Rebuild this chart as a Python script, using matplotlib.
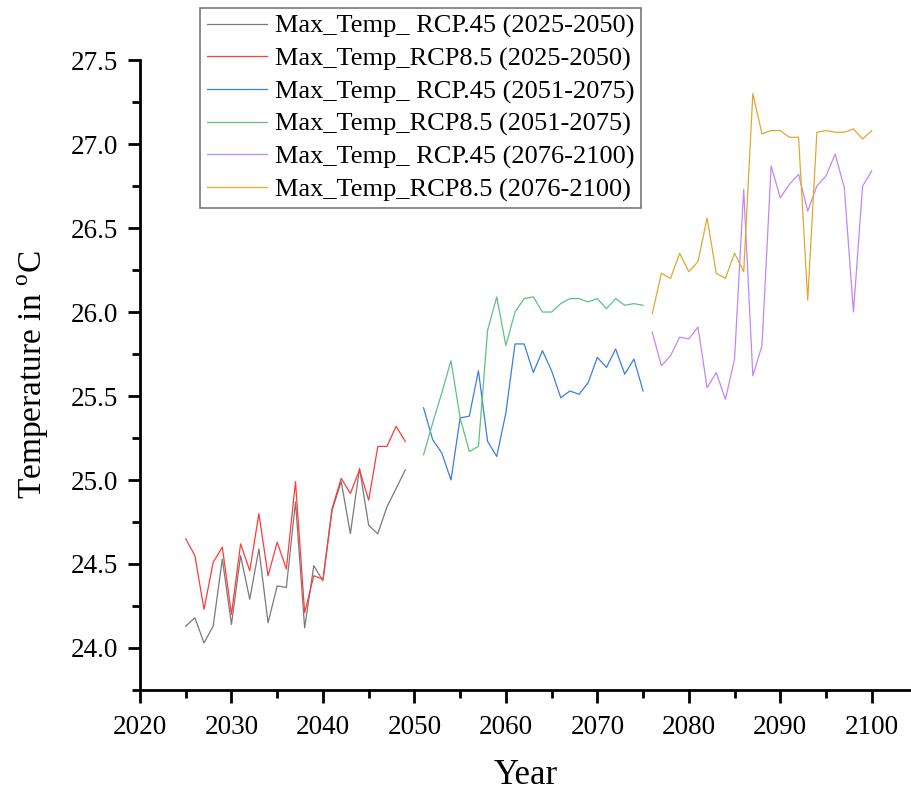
import matplotlib.pyplot as plt
from matplotlib.ticker import MultipleLocator
import numpy as np

plt.rcParams['font.family'] = ['Liberation Serif', 'DejaVu Serif']
plt.rcParams['mathtext.fontset'] = 'custom'
plt.rcParams['mathtext.rm'] = 'Liberation Serif'

years_1 = list(range(2025, 2050))
years_2 = list(range(2051, 2076))
years_3 = list(range(2076, 2101))

# period 1
rcp45_p1 = [24.13, 24.18, 24.03, 24.13, 24.53, 24.14, 24.55, 24.29, 24.59, 24.15,
            24.37, 24.36, 24.87, 24.12, 24.49, 24.40, 24.82, 24.99, 24.68, 25.07,
            24.73, 24.68, 24.84, 24.95, 25.06]
rcp85_p1 = [24.65, 24.55, 24.23, 24.51, 24.60, 24.20, 24.62, 24.46, 24.80, 24.43,
            24.63, 24.47, 24.99, 24.21, 24.43, 24.41, 24.83, 25.01, 24.92, 25.06,
            24.88, 25.20, 25.20, 25.32, 25.23]
# period 2
rcp45_p2 = [25.43, 25.24, 25.16, 25.00, 25.37, 25.38, 25.65, 25.23, 25.14, 25.40,
            25.81, 25.81, 25.64, 25.77, 25.65, 25.49, 25.53, 25.51, 25.58, 25.73,
            25.67, 25.78, 25.63, 25.72, 25.53]
rcp85_p2 = [25.15, 25.34, 25.52, 25.71, 25.37, 25.17, 25.20, 25.89, 26.09, 25.80,
            26.00, 26.08, 26.09, 26.00, 26.00, 26.05, 26.08, 26.08, 26.06, 26.08,
            26.02, 26.08, 26.04, 26.05, 26.04]
# period 3
rcp45_p3 = [25.88, 25.68, 25.74, 25.85, 25.84, 25.91, 25.55, 25.64, 25.48, 25.72,
            26.73, 25.62, 25.80, 26.87, 26.68, 26.76, 26.82, 26.60, 26.75, 26.81,
            26.94, 26.74, 26.00, 26.75, 26.84]
rcp85_p3 = [25.99, 26.23, 26.20, 26.35, 26.24, 26.30, 26.56, 26.23, 26.20, 26.35,
            26.24, 27.30, 27.06, 27.08, 27.08, 27.04, 27.04, 26.07, 27.07, 27.08,
            27.07, 27.07, 27.09, 27.03, 27.08]

labels = ['Max_Temp_ RCP.45 (2025-2050)', 'Max_Temp_RCP8.5 (2025-2050)',
          'Max_Temp_ RCP.45 (2051-2075)', 'Max_Temp_RCP8.5 (2051-2075)',
          'Max_Temp_ RCP.45 (2076-2100)', 'Max_Temp_RCP8.5 (2076-2100)']
colors = ['#7a7a7a', '#ff3b3b', '#3a7fe0', '#5cc27e', '#c187f5', '#e0a830']

series = [(years_1, rcp45_p1), (years_1, rcp85_p1),
          (years_2, rcp45_p2), (years_2, rcp85_p2),
          (years_3, rcp45_p3), (years_3, rcp85_p3)]

fig = plt.figure(figsize=(9.12, 7.91), dpi=100)
ax = fig.add_axes([0.1535, 0.1277, 1.0 - 0.1535, 0.9241 - 0.1277])

for (x, y), lab, c in zip(series, labels, colors):
    ax.plot(x, y, color=c, lw=0.9, label=lab)

ax.set_xlim(2020, 2104.4)
ax.set_ylim(23.75, 27.5)
ax.xaxis.set_major_locator(MultipleLocator(10))
ax.xaxis.set_minor_locator(MultipleLocator(5))
ax.yaxis.set_major_locator(MultipleLocator(0.5))
ax.yaxis.set_minor_locator(MultipleLocator(0.25))
ax.yaxis.set_major_formatter(plt.FormatStrFormatter('%.1f'))

for s in ['top', 'right']:
    ax.spines[s].set_visible(False)
for s in ['left', 'bottom']:
    ax.spines[s].set_linewidth(2)
ax.tick_params(which='major', length=9, width=2, labelsize=19.5)
ax.tick_params(axis='y', which='major', pad=7)
ax.tick_params(axis='x', which='major', pad=9)
ax.tick_params(which='minor', length=6, width=2)

ax.set_xlabel('Year', fontsize=25, labelpad=14)
ax.set_ylabel('Temperature in $^\\mathrm{o}$C', fontsize=24, labelpad=14)

leg = ax.legend(loc='upper left', bbox_to_anchor=(200 / 912, 783 / 791),
                bbox_transform=fig.transFigure, fontsize=19, frameon=True,
                fancybox=False, edgecolor='#555555', handlelength=2.3,
                handletextpad=0.3, labelspacing=0.33, borderpad=0.25,
                borderaxespad=0)
leg.get_frame().set_linewidth(1.2)

fig.savefig('out.png', dpi=100)
